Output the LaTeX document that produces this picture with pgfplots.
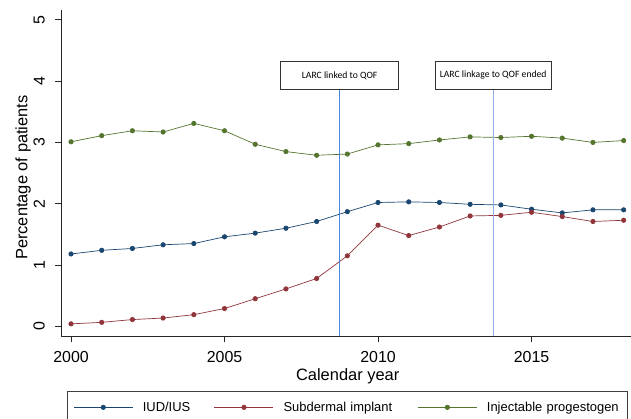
\documentclass[border=0pt]{standalone}
\usepackage{fontspec}
\setmainfont{Liberation Sans}
\newfontfamily\calibri{Carlito}
\usepackage{pgfplots}
\pgfplotsset{compat=1.18}
\definecolor{sblue}{HTML}{1A476F}
\definecolor{sred}{HTML}{90353B}
\definecolor{sgreen}{HTML}{55752F}
\definecolor{vlineA}{HTML}{4A86E0}
\definecolor{vlineB}{HTML}{92AFE8}
\begin{document}
\begin{tikzpicture}
\useasboundingbox (0,0) rectangle (631bp,419bp);
\begin{axis}[
  at={(61bp,83bp)}, anchor=south west,
  scale only axis, width=573.4bp, height=326bp,
  xmin=1999.674, xmax=2018.35,
  ymin=-0.158, ymax=5.16,
  axis x line*=bottom, axis y line*=left,
  axis line style={black!85, line width=0.8bp, -},
  xtick={2000,2005,2010,2015},
  ytick={0,1,2,3,4,5},
  tick align=outside,
  major tick length=6bp,
  tick style={black!85, line width=0.8bp},
  /pgf/number format/assume math mode=true,
  /pgf/number format/1000 sep={},
  tick label style={font=\fontsize{16}{18}\selectfont},
  xticklabel style={anchor=north, inner sep=0pt, yshift=-9bp},
  yticklabel style={xshift=-10bp, rotate=90, anchor=south, inner sep=0pt},
  xlabel={Calendar year},
  ylabel={Percentage of patients},
  label style={font=\fontsize{16.5}{18}\selectfont},
  xlabel style={at={(axis description cs:0.5,-0.0982)}, anchor=north, inner sep=0pt},
  ylabel style={at={(axis description cs:-0.066,0.486)}, anchor=center, inner sep=0pt},
  legend columns=3,
  legend cell align=left,
  legend style={at={(axis description cs:0.0105,-0.1687)}, anchor=north west,
    draw=black!75, line width=0.8bp, inner xsep=6bp, inner ysep=10.5bp,
    font=\fontsize{13}{15}\selectfont, nodes={inner sep=0pt}},
  legend image code/.code={%
    \draw[mark repeat=2,mark phase=2] plot coordinates {(0bp,0bp) (29.5bp,0bp) (59bp,0bp)};
    \path (68.7bp,0bp);},
  every axis plot/.append style={line width=0.7bp, mark=*, mark size=2.2bp},
]
\addplot[color=sblue, mark options={fill=sblue, draw=sblue}] coordinates {
(2000,1.18) (2001,1.24) (2002,1.27) (2003,1.33) (2004,1.35) (2005,1.46)
(2006,1.52) (2007,1.60) (2008,1.71) (2009,1.87) (2010,2.02) (2011,2.03)
(2012,2.02) (2013,1.99) (2014,1.98) (2015,1.91) (2016,1.85) (2017,1.90) (2018,1.90)};
\addlegendentry[text width=71.3bp]{IUD/IUS}
\addplot[color=sred, mark options={fill=sred, draw=sred}] coordinates {
(2000,0.04) (2001,0.065) (2002,0.11) (2003,0.135) (2004,0.19) (2005,0.29)
(2006,0.45) (2007,0.61) (2008,0.78) (2009,1.15) (2010,1.65) (2011,1.48)
(2012,1.62) (2013,1.80) (2014,1.81) (2015,1.86) (2016,1.79) (2017,1.71) (2018,1.73)};
\addlegendentry[text width=134bp]{Subdermal implant}
\addplot[color=sgreen, mark options={fill=sgreen, draw=sgreen}] coordinates {
(2000,3.01) (2001,3.11) (2002,3.19) (2003,3.17) (2004,3.31) (2005,3.19)
(2006,2.97) (2007,2.85) (2008,2.79) (2009,2.81) (2010,2.96) (2011,2.98)
(2012,3.04) (2013,3.09) (2014,3.08) (2015,3.10) (2016,3.07) (2017,3.00) (2018,3.03)};
\addlegendentry[text width=134bp]{Injectable progestogen}
\addplot[vlineA, line width=1bp, mark=none, forget plot] coordinates {(2008.75,-0.158) (2008.75,3.855)};
\addplot[vlineB, line width=1.3bp, mark=none, forget plot] coordinates {(2013.75,-0.158) (2013.75,3.855)};
\node[draw=black!80, line width=1bp, fill=white, anchor=south, minimum width=117.7bp, minimum height=28.3bp,
  font=\calibri\fontsize{9.7}{11}\selectfont] at (axis cs:2008.75,3.855) {LARC linked to QOF};
\node[draw=black!80, line width=1bp, fill=white, anchor=south, minimum width=116.3bp, minimum height=28.3bp,
  font=\calibri\fontsize{9.7}{11}\selectfont] at (axis cs:2013.75,3.855) {LARC linkage to QOF ended};
\end{axis}
\end{tikzpicture}
\end{document}
